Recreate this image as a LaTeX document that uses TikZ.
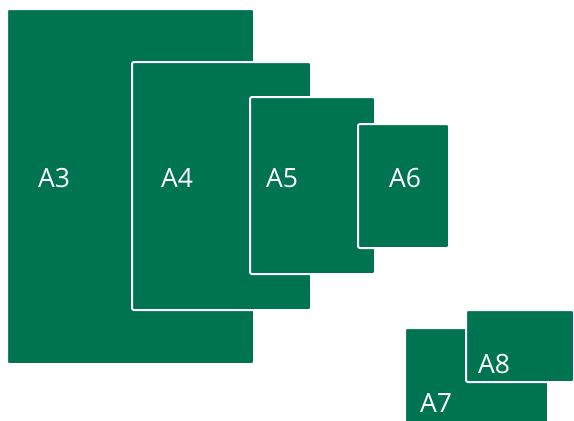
\documentclass[tikz,border=0pt]{standalone}
\usepackage{fontspec}
\setmainfont{Open Sans}
\definecolor{paperg}{RGB}{0,116,80}
\tikzset{
  paper/.style={fill=paperg, draw=white, line width=2pt, rounded corners=2pt},
  lbl/.style={text=white, font=\fontsize{26.5}{26.5}\selectfont, inner sep=0pt, anchor=base}
}
\begin{document}
\begin{tikzpicture}[x=1pt,y=-1pt]
\useasboundingbox (0,0) rectangle (574,421);
\fill[white] (0,0) rectangle (574,421);
\draw[paper] (7,9) rectangle (254,364);
\draw[paper] (132,62) rectangle (311,310);
\draw[paper] (250,97) rectangle (375,274);
\draw[paper] (358,124) rectangle (449,248);
\draw[paper] (405,328) rectangle (548,424);
\draw[paper] (466,310) rectangle (574,382);
\node[lbl] (t3) at (54,187) {A3};
\node[lbl] (t4) at (177,187) {A4};
\node[lbl] (t5) at (282,187) {A5};
\node[lbl] (t6) at (405,187) {A6};
\node[lbl] (t7) at (436,412) {A7};
\node[lbl] (t8) at (494,373) {A8};
\end{tikzpicture}
\end{document}
